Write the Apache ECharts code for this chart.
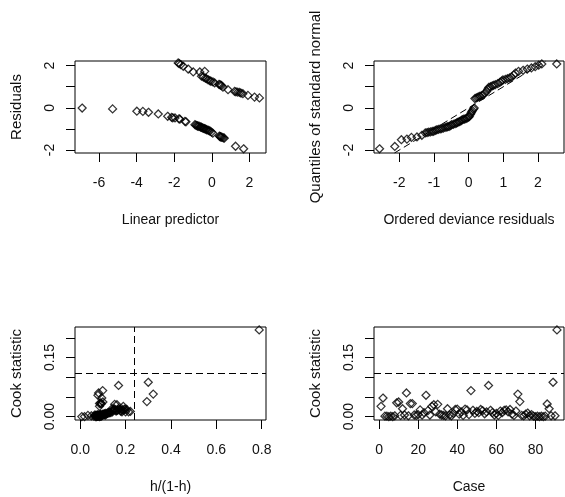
<!DOCTYPE html>
<html>
<head>
<meta charset="utf-8">
<script src="https://cdn.jsdelivr.net/npm/echarts@6/dist/echarts.min.js"></script>
<style>
html,body{margin:0;padding:0;background:#fff;}
#chart{width:565px;height:497px;}
</style>
</head>
<body>
<div id="chart"></div>
<script>
// ---- Panel 1: residuals vs linear predictor ----
const linPred = [-6.90,-5.28,-3.99,-3.67,-3.37,-2.85,-2.35,-2.14,-2.08,-1.96,-1.75,-1.70,-1.43,-1.38,-0.90,-0.85,-0.80,-0.76,-0.73,-0.68,-0.62,-0.58,-0.55,-0.50,-0.45,-0.40,-0.36,-0.31,-0.27,-0.20,-0.15,-0.10,-0.02,0.05,0.40,0.43,0.47,0.50,0.55,0.62,0.66,1.26,1.69,
  -1.79,-1.74,-1.65,-1.52,-1.26,-0.99,-0.64,-0.38,-0.55,-0.45,-0.35,-0.29,-0.20,-0.11,-0.05,0.06,0.15,0.38,0.42,0.47,0.52,0.59,0.86,1.21,1.28,1.38,1.48,1.55,1.65,1.92,2.27,2.53];
const residuals = [-0.01,-0.05,-0.16,-0.17,-0.21,-0.29,-0.40,-0.45,-0.47,-0.48,-0.52,-0.54,-0.64,-0.66,-0.80,-0.82,-0.84,-0.85,-0.88,-0.87,-0.90,-0.91,-0.93,-0.95,-0.97,-0.98,-1.00,-1.02,-1.04,-1.06,-1.08,-1.10,-1.15,-1.20,-1.34,-1.36,-1.37,-1.39,-1.40,-1.42,-1.44,-1.82,-1.94,
  2.13,2.10,2.05,1.97,1.84,1.70,1.70,1.73,1.50,1.46,1.41,1.38,1.33,1.29,1.26,1.23,1.18,1.11,1.10,1.08,1.05,0.98,0.86,0.78,0.76,0.74,0.73,0.70,0.67,0.59,0.51,0.47];

// ---- Panel 2: normal QQ ----
const qqResid = [-2.57,-2.13,-1.94,-1.78,-1.65,-1.49,-1.35,-1.25,-1.20,-1.15,-1.10,-1.05,-1.01,-0.96,-0.92,-0.87,-0.82,-0.78,-0.73,-0.68,-0.63,-0.60,-0.56,-0.52,-0.49,-0.44,-0.39,-0.35,-0.32,-0.28,-0.25,-0.21,-0.18,-0.14,-0.11,-0.07,-0.04,0.00,0.02,0.05,0.07,0.09,0.11,0.14,0.16,
  0.18,0.22,0.26,0.30,0.33,0.38,0.42,0.47,0.52,0.55,0.58,0.63,0.68,0.72,0.77,0.84,0.90,0.95,0.99,1.06,1.12,1.18,1.23,1.30,1.35,1.44,1.57,1.69,1.81,1.92,2.02,2.11,2.54];
const qqNorm = [-1.94,-1.83,-1.51,-1.48,-1.40,-1.38,-1.30,-1.19,-1.17,-1.15,-1.14,-1.12,-1.11,-1.07,-1.04,-1.02,-1.00,-0.98,-0.96,-0.93,-0.91,-0.89,-0.88,-0.84,-0.80,-0.78,-0.75,-0.72,-0.69,-0.66,-0.64,-0.60,-0.56,-0.54,-0.53,-0.50,-0.48,-0.44,-0.40,-0.32,-0.24,-0.18,-0.13,-0.06,-0.01,
  0.44,0.47,0.50,0.53,0.55,0.58,0.62,0.70,0.78,0.88,0.97,1.00,1.04,1.07,1.10,1.15,1.21,1.27,1.32,1.35,1.38,1.42,1.45,1.55,1.65,1.73,1.78,1.84,1.89,1.95,2.02,2.08,2.08];

// ---- Panels 3 & 4: Cook statistics (cases 1..91) ----
const hRatio = [0.085,0.095,0.060,0.070,0.007,0.075,0.019,0.080,0.090,0.100,0.085,0.140,0.090,0.081,0.095,0.085,0.093,0.110,0.070,0.105,
  0.150,0.100,0.125,0.078,0.180,0.065,0.190,0.162,0.200,0.152,0.110,0.075,0.034,0.049,0.170,0.080,0.065,0.120,0.185,0.195,
  0.115,0.213,0.075,0.175,0.145,0.088,0.099,0.160,0.118,0.221,0.130,0.198,0.140,0.105,0.184,0.169,0.165,0.135,0.090,0.112,
  0.082,0.178,0.128,0.188,0.155,0.142,0.205,0.100,0.078,0.158,0.322,0.294,0.092,0.085,0.108,0.122,0.083,0.096,0.088,0.072,
  0.079,0.086,0.092,0.068,0.074,0.091,0.150,0.077,0.300,0.083,0.789];
const cookStat = [0.026,0.047,0.001,0.001,0.000,0.001,0.000,0.002,0.035,0.037,0.003,0.020,0.004,0.060,0.002,0.033,0.033,0.004,0.003,0.005,
  0.017,0.004,0.010,0.054,0.015,0.004,0.026,0.030,0.012,0.031,0.006,0.004,0.003,0.002,0.020,0.004,0.002,0.008,0.018,0.019,
  0.006,0.012,0.003,0.019,0.017,0.005,0.066,0.016,0.008,0.013,0.010,0.018,0.015,0.007,0.012,0.079,0.016,0.010,0.004,0.008,
  0.003,0.014,0.010,0.016,0.017,0.012,0.018,0.006,0.003,0.014,0.057,0.038,0.003,0.002,0.006,0.009,0.002,0.005,0.001,0.000,
  0.001,0.000,0.001,0.000,0.001,0.032,0.020,0.002,0.087,0.002,0.220];
const cookCut = 0.1096;   // 8/(n-2p)
const hCut = 0.244;       // 2p/(n-2p)

// ---- Tick values / labels ----
const lpTicks = [-6,-4,-2,0,2];
const residTicks = [-2,-1,0,1,2];
const residLabels = [-2,0,2];
const qqXTicks = [-2,-1,0,1,2];
const hTicks = [0,0.2,0.4,0.6,0.8];
const cookTicks = [0,0.05,0.1,0.15,0.2];
const cookLabels = [0,0.15];
const caseTicks = [0,20,40,60,80];

const FONT = 'Liberation Sans, Arial, sans-serif';
const BLACK = '#000';

function xAx(gi, min, max, ticks, labels, fmt, name){
  return {
    gridIndex: gi, type: 'value', min: min, max: max, position: 'bottom',
    axisLine: {show: false, onZero: false}, splitLine: {show: false},
    axisTick: {show: true, length: 9, lineStyle: {color: BLACK, width: 1}, customValues: ticks},
    axisLabel: {customValues: labels, margin: 23, fontFamily: FONT, fontSize: 14, color: '#111', formatter: fmt},
    name: name, nameLocation: 'middle', nameGap: 60, nameMoveOverlap: false,
    nameTextStyle: {fontFamily: FONT, fontSize: 14, color: '#111'}
  };
}
function yAx(gi, min, max, ticks, labels, fmt, name){
  return {
    gridIndex: gi, type: 'value', min: min, max: max, position: 'left',
    axisLine: {show: false, onZero: false}, splitLine: {show: false},
    axisTick: {show: true, length: 9, lineStyle: {color: BLACK, width: 1}, customValues: ticks},
    axisLabel: {customValues: labels, margin: 18, rotate: 90, fontFamily: FONT, fontSize: 14, color: '#111', formatter: fmt},
    name: name, nameLocation: 'middle', nameGap: 51, nameMoveOverlap: false,
    nameTextStyle: {fontFamily: FONT, fontSize: 15, color: '#111'}
  };
}
const fmtInt = v => String(Math.round(v));
const fmt1 = v => v.toFixed(1);
const fmt2 = v => v.toFixed(2);

const pointStyle = {
  type: 'scatter', symbol: 'diamond', symbolSize: 8,
  itemStyle: {color: 'rgba(255,255,255,0)', borderColor: BLACK, borderWidth: 1.25},
  emphasis: {disabled: true}, silent: true
};
const dashStyle = {color: BLACK, width: 1, type: [7,4]};

const gridBase = {show: true, borderColor: BLACK, borderWidth: 1, backgroundColor: 'transparent', containLabel: false, outerBoundsMode: 'none'};

const yMin1 = -2.14, yMax1 = 2.22;

const option = {
  animation: false,
  backgroundColor: '#fff',
  grid: [
    Object.assign({left: 75, top: 61, width: 191, height: 92}, gridBase),
    Object.assign({left: 374, top: 61, width: 190, height: 92}, gridBase),
    Object.assign({left: 75, top: 327, width: 191, height: 93}, gridBase),
    Object.assign({left: 374, top: 327, width: 190, height: 93}, gridBase)
  ],
  xAxis: [
    xAx(0, -7.28, 2.88, lpTicks, lpTicks, fmtInt, 'Linear predictor'),
    xAx(1, -2.73, 2.75, qqXTicks, qqXTicks, fmtInt, 'Ordered deviance residuals'),
    xAx(2, -0.023, 0.819, hTicks, hTicks, fmt1, 'h/(1-h)'),
    xAx(3, -2.6, 94.6, caseTicks, caseTicks, fmtInt, 'Case')
  ],
  yAxis: [
    yAx(0, yMin1, yMax1, residTicks, residLabels, fmtInt, 'Residuals'),
    yAx(1, yMin1, yMax1, residTicks, residLabels, fmtInt, 'Quantiles of standard normal'),
    yAx(2, -0.0087, 0.2274, cookTicks, cookLabels, fmt2, 'Cook statistic'),
    yAx(3, -0.0087, 0.2274, cookTicks, cookLabels, fmt2, 'Cook statistic')
  ],
  series: [
    Object.assign({}, pointStyle, {xAxisIndex: 0, yAxisIndex: 0, data: linPred.map((x, i) => [x, residuals[i]])}),
    Object.assign({}, pointStyle, {xAxisIndex: 1, yAxisIndex: 1, data: qqResid.map((x, i) => [x, qqNorm[i]])}),
    {type: 'line', xAxisIndex: 1, yAxisIndex: 1, symbol: 'none', silent: true, clip: true,
     lineStyle: dashStyle, data: [[yMin1, yMin1], [yMax1, yMax1]]},
    Object.assign({}, pointStyle, {xAxisIndex: 2, yAxisIndex: 2, data: hRatio.map((h, i) => [h, cookStat[i]]),
      markLine: {silent: true, symbol: 'none', label: {show: false}, lineStyle: dashStyle,
                 data: [{yAxis: cookCut}, {xAxis: hCut}]}}),
    Object.assign({}, pointStyle, {xAxisIndex: 3, yAxisIndex: 3, data: cookStat.map((c, i) => [i + 1, c]),
      markLine: {silent: true, symbol: 'none', label: {show: false}, lineStyle: dashStyle,
                 data: [{yAxis: cookCut}]}})
  ]
};

const chart = echarts.init(document.getElementById('chart'), null, {renderer: 'canvas'});
chart.setOption(option);
</script>
</body>
</html>
